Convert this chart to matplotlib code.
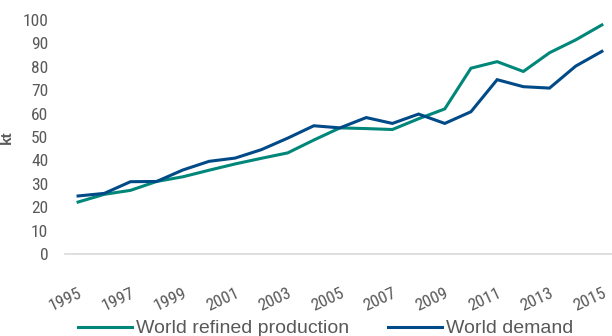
import matplotlib.pyplot as plt
from matplotlib import font_manager

years = list(range(1995, 2016))
production = [22.2, 25.5, 27.2, 31.0, 33.0, 35.8, 38.5, 40.9, 43.2, 48.7, 53.9, 53.6, 53.2,
              57.8, 62.0, 79.4, 82.2, 78.0, 86.0, 91.5, 97.9]
demand = [24.8, 25.9, 30.9, 31.0, 35.9, 39.6, 41.0, 44.6, 49.5, 54.8, 53.9, 58.3, 55.8,
          59.8, 55.8, 60.8, 74.5, 71.5, 70.9, 80.3, 86.6]

# Narrow face for the axis numbers, regular sans for the legend
names = {f.name for f in font_manager.fontManager.ttflist}
narrow = next((n for n in ['Liberation Sans Narrow', 'Arial Narrow', 'Roboto Condensed',
                           'Archivo Narrow'] if n in names), 'Liberation Sans')
plt.rcParams['font.family'] = ['Liberation Sans', 'DejaVu Sans']

grey = '#595959'
teal = '#00877a'
navy = '#004a87'

fig = plt.figure(figsize=(6.12, 3.36), dpi=100)
ax = fig.add_axes([65 / 612, 1 - 254 / 336, 550 / 612, 234 / 336])

ax.plot(years, production, color=teal, lw=2.2, label='World refined production', solid_joinstyle='miter')
ax.plot(years, demand, color=navy, lw=2.2, label='World demand', solid_joinstyle='miter')

ax.set_xlim(1994.5, 2015.5)
ax.set_ylim(0, 100)
ax.set_yticks(range(0, 101, 10))
ax.set_xticks(years[::2])
ax.set_xticklabels([str(y) for y in years[::2]], rotation=25, ha='right',
                   rotation_mode='anchor')

for side in ['top', 'right', 'left']:
    ax.spines[side].set_visible(False)
ax.spines['bottom'].set_color('#d9d9d9')
ax.spines['bottom'].set_linewidth(1.2)
ax.tick_params(axis='both', length=0, labelsize=12.5, colors=grey)
ax.tick_params(axis='x', pad=23)
ax.tick_params(axis='y', pad=12)
for lab in ax.get_xticklabels() + ax.get_yticklabels():
    lab.set_family(narrow)

ax.set_ylabel('kt', fontsize=11, fontweight='bold', color=grey)
ax.yaxis.set_label_coords(-0.093, 0.5)

fig.legend(loc='center', bbox_to_anchor=(0.532, 0.022), ncol=2, frameon=False,
           fontsize=14, handlelength=2.8, handletextpad=0.2, columnspacing=2.0,
           labelcolor=grey, borderpad=0)

fig.savefig('out.png', dpi=100)
